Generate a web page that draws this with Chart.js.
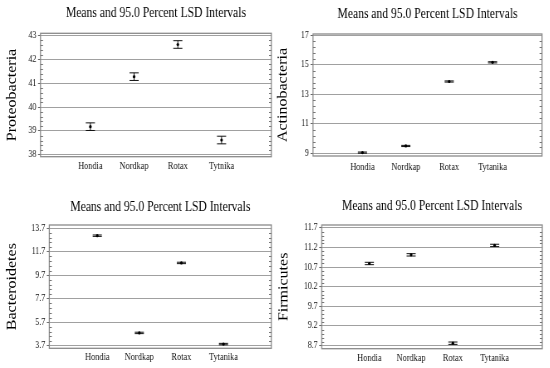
<!DOCTYPE html>
<html>
<head>
<meta charset="utf-8">
<script src="https://cdn.jsdelivr.net/npm/chart.js@4.4.1/dist/chart.umd.min.js"></script>
<style>
  body { margin: 0; background: #fff; }
  canvas { position: absolute; transform: scaleX(0.83); transform-origin: 0 0; }
</style>
</head>
<body>
<canvas id="c1" width="331" height="184" style="left:0px;top:0px"></canvas>
<canvas id="c2" width="331" height="184" style="left:275px;top:0px"></canvas>
<canvas id="c3" width="331" height="184" style="left:0px;top:184px"></canvas>
<canvas id="c4" width="331" height="184" style="left:275px;top:184px"></canvas>
<script>
// categories (first panel spells the last one differently)
const catsProteo = ['Hondia', 'Nordkap', 'Rotax', 'Tytnika'];
const cats = ['Hondia', 'Nordkap', 'Rotax', 'Tytanika'];

// means and half widths of the LSD intervals
const proteoMeans = [39.18, 41.28, 42.63, 38.62];
const proteoHalf = [0.16, 0.16, 0.16, 0.16];
const actinoMeans = [9.05, 9.5, 13.87, 15.17];
const actinoHalf = [0.04, 0.04, 0.04, 0.04];
const bacterMeans = [13.07, 4.79, 10.75, 3.84];
const bacterHalf = [0.06, 0.06, 0.06, 0.06];
const firmiMeans = [10.79, 11.01, 8.76, 11.25];
const firmiHalf = [0.03, 0.03, 0.03, 0.03];

// y tick labels
const proteoTicks = [38, 39, 40, 41, 42, 43];
const actinoTicks = [9, 11, 13, 15, 17];
const bacterTicks = [3.7, 5.7, 7.7, 9.7, 11.7, 13.7];
const firmiTicks = [8.7, 9.2, 9.7, 10.2, 10.7, 11.2, 11.7];

const serif = 'Liberation Serif';
const titleText = 'Means and 95.0 Percent LSD Intervals';

function minorValues(ticks, step, min, max) {
  const out = [];
  for (let k = -100; k < 200; k++) {
    const v = +(ticks[0] + k * step).toFixed(4);
    if (v < min || v > max) continue;
    if (ticks.some(t => Math.abs(t - v) < 1e-6)) continue;
    out.push(v);
  }
  return out;
}

const lsdPlugin = {
  id: 'lsd',
  beforeDatasetsDraw(chart, args, opts) {
    const { ctx, chartArea: a, scales: { x, y } } = chart;
    ctx.save();
    ctx.strokeStyle = '#8a8a8a';
    ctx.lineWidth = 1.3;
    ctx.strokeRect(a.left, a.top, a.right - a.left, a.bottom - a.top);
    ctx.strokeStyle = '#777';
    ctx.lineWidth = 1;
    ctx.beginPath();
    opts.minor.forEach(v => {
      const py = Math.round(y.getPixelForValue(v)) + 0.5;
      ctx.moveTo(a.left, py); ctx.lineTo(a.left + 3, py);
      ctx.moveTo(a.right, py); ctx.lineTo(a.right - 3, py);
    });
    ctx.stroke();
    ctx.strokeStyle = '#111';
    ctx.beginPath();
    opts.means.forEach((m, i) => {
      const px = x.getPixelForValue(i);
      const top = y.getPixelForValue(m + opts.half[i]);
      const bot = y.getPixelForValue(m - opts.half[i]);
      ctx.moveTo(px, top); ctx.lineTo(px, bot);
      ctx.moveTo(px - 5.5, top); ctx.lineTo(px + 5.5, top);
      ctx.moveTo(px - 5.5, bot); ctx.lineTo(px + 5.5, bot);
    });
    ctx.stroke();
    ctx.restore();
  }
};

function panel(id, labels, means, half, ticks, yMin, yMax, minorStep, yTitle, decimals, lay) {
  new Chart(document.getElementById(id), {
    type: 'scatter',
    data: {
      datasets: [{
        data: means.map((m, i) => ({ x: i, y: m })),
        pointRadius: 1.6,
        pointBackgroundColor: '#000',
        pointBorderColor: '#000',
        pointBorderWidth: 0
      }]
    },
    plugins: [lsdPlugin],
    options: {
      responsive: false,
      animation: false,
      layout: { padding: { left: 0, right: lay.right, top: 0, bottom: 0 } },
      plugins: {
        legend: { display: false },
        tooltip: { enabled: false },
        title: {
          display: true,
          text: titleText,
          fullSize: false,
          color: '#000',
          font: { family: serif, size: 14, weight: 'normal' },
          padding: { top: lay.titleTop, bottom: lay.titleBottom }
        },
        lsd: { minor: minorValues(ticks, minorStep, yMin, yMax), means: means, half: half }
      },
      scales: {
        x: {
          type: 'linear',
          min: -1.14,
          max: 4.14,
          afterBuildTicks: s => { s.ticks = labels.map((c, i) => ({ value: i })); },
          afterFit: s => { s.height = lay.xHeight; },
          grid: { display: false, drawTicks: false },
          border: { display: false },
          ticks: {
            autoSkip: false,
            maxRotation: 0,
            padding: lay.xPad,
            color: '#111',
            font: { family: serif, size: 10 },
            callback: v => labels[v]
          }
        },
        y: {
          min: yMin,
          max: yMax,
          afterBuildTicks: s => { s.ticks = ticks.map(t => ({ value: t })); },
          afterFit: s => { s.width = lay.left; },
          grid: { color: '#a0a0a0', lineWidth: 1, tickLength: 3, tickColor: '#666' },
          border: { display: false },
          ticks: {
            padding: 2,
            color: '#111',
            font: { family: serif, size: 9.5 },
            callback: v => v.toFixed(decimals)
          },
          title: {
            display: true,
            text: yTitle,
            color: '#000',
            font: { family: serif, size: 16 },
            padding: { top: lay.yTitlePad, bottom: 0 }
          }
        }
      }
    }
  });
}

panel('c1', catsProteo, proteoMeans, proteoHalf, proteoTicks, 37.92, 43.1, 0.2, 'Proteobacteria', 0,
  { left: 48.8, right: 3.3, titleTop: 5.1, titleBottom: 11.4, yTitlePad: 4.9, xHeight: 27.3, xPad: 4 });
panel('c2', cats, actinoMeans, actinoHalf, actinoTicks, 8.82, 17.09, 0.4, 'Actinobacteria', 0,
  { left: 45.8, right: 9.3, titleTop: 5.6, titleBottom: 11.6, yTitlePad: 0.4, xHeight: 28, xPad: 5 });
panel('c3', cats, bacterMeans, bacterHalf, bacterTicks, 3.48, 13.98, 0.4, 'Bacteroidetes', 1,
  { left: 59.4, right: 2.4, titleTop: 14.6, titleBottom: 9.6, yTitlePad: 5.3, xHeight: 19.7, xPad: 3 });
panel('c4', cats, firmiMeans, firmiHalf, firmiTicks, 8.62, 11.77, 0.1, 'Firmicutes', 1,
  { left: 56.3, right: 9, titleTop: 14.1, titleBottom: 10.1, yTitlePad: 1.2, xHeight: 19.3, xPad: 4 });
</script>
</body>
</html>
